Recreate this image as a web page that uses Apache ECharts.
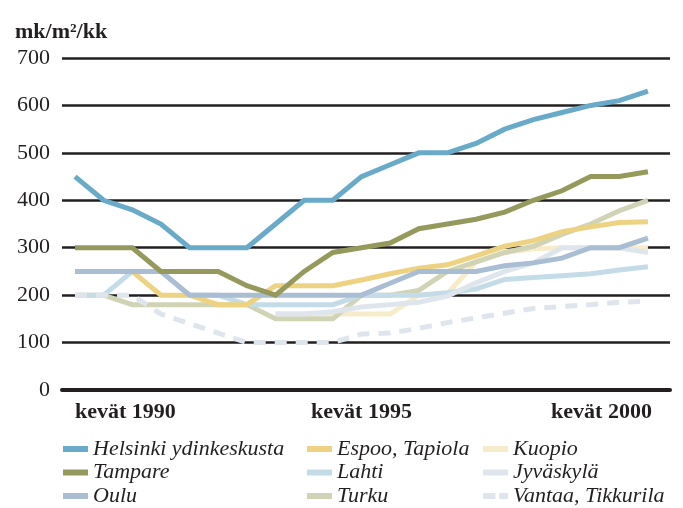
<!DOCTYPE html>
<html><head><meta charset="utf-8">
<script src="https://cdn.jsdelivr.net/npm/echarts@6/dist/echarts.min.js"></script>
<style>html,body{margin:0;padding:0;background:#fff}#c{width:683px;height:508px}</style>
</head><body><div id="c"></div>
<script>
// Semiannual observations, spring 1990 .. spring 2000 (21 points)
const periods = [
  'kevät 1990','syksy 1990','kevät 1991','syksy 1991','kevät 1992','syksy 1992',
  'kevät 1993','syksy 1993','kevät 1994','syksy 1994','kevät 1995','syksy 1995',
  'kevät 1996','syksy 1996','kevät 1997','syksy 1997','kevät 1998','syksy 1998',
  'kevät 1999','syksy 1999','kevät 2000'
];
const tickIndices = [0, 10, 20];
const yTicks = [0, 100, 200, 300, 400, 500, 600, 700];
const unitLabel = 'mk/m²/kk';

const helsinki  = [450,400,380,350,300,300,300,350,400,400,450,475,500,500,520,550,570,585,600,610,630];
const tampere   = [300,300,300,250,250,250,220,200,250,290,300,310,340,350,360,375,400,420,450,450,460];
const oulu      = [250,250,250,250,200,200,200,200,200,200,200,225,250,250,250,262,268,278,300,300,320];
const espoo     = [250,250,250,200,200,180,180,220,220,220,232,245,257,264,283,303,315,334,344,353,355];
const lahti     = [200,200,250,250,200,200,180,180,180,180,200,200,200,205,213,233,237,241,245,253,260];
const turku     = [200,200,180,180,180,180,180,150,150,150,200,200,210,250,270,290,303,328,350,378,400];
const kuopio    = [null,null,null,null,null,null,null,160,160,160,160,160,200,203,270,290,298,300,300,300,300];
const jyvaskyla = [null,null,null,null,null,null,null,160,160,165,175,180,185,198,226,250,268,300,300,300,290];
const vantaa    = [200,200,200,160,140,120,100,100,100,100,118,120,130,142,152,162,172,176,180,185,187];

const names = {
  helsinki:'Helsinki ydinkeskusta', espoo:'Espoo, Tapiola', kuopio:'Kuopio',
  tampere:'Tampare', lahti:'Lahti', jyvaskyla:'Jyväskylä',
  oulu:'Oulu', turku:'Turku', vantaa:'Vantaa, Tikkurila'
};
const colors = {
  helsinki:'#6aaac9', tampere:'#959a5c', oulu:'#a9bdd3', espoo:'#ecd281',
  lahti:'#c3dce7', turku:'#d1d3b5', kuopio:'#f6ecca', jyvaskyla:'#dee5ed', vantaa:'#dee5ed'
};

const INK = '#231f20';
const FONT = '"Liberation Serif", "DejaVu Serif", serif';
const AXFS = 22;

const ctx = document.createElement('canvas').getContext('2d');
ctx.font = 'bold ' + AXFS + 'px ' + FONT;
const wFirst = ctx.measureText(periods[tickIndices[0]]).width;
const wLast = ctx.measureText(periods[tickIndices[2]]).width;

function mk(key, values, extra) {
  return Object.assign({
    name: names[key], type: 'line', symbol: 'none', showSymbol: false,
    data: values.map((v, i) => [i, v]),
    lineStyle: { width: 5, color: colors[key], cap: 'butt', join: 'miter' },
    itemStyle: { color: colors[key] },
    emphasis: { disabled: true }, silent: true
  }, extra || {});
}

const SOLID = 'rect';
const DASHED = 'path://M0,0H13V6H0Z M17,0H26V6H17Z';
function li(key) { return { name: names[key], icon: key === 'vantaa' ? DASHED : SOLID }; }

const legendBase = {
  orient: 'vertical', top: 438, height: 80, padding: 0, itemWidth: 25, itemHeight: 6, itemGap: 1.5,
  selectedMode: false,
  textStyle: { fontFamily: FONT, fontStyle: 'italic', fontSize: 22, color: INK, lineHeight: 20 }
};

const chart = echarts.init(document.getElementById('c'), null, { renderer: 'canvas' });
chart.setOption({
  animation: false,
  backgroundColor: '#fff',
  title: { text: unitLabel, left: 10, top: 16, textStyle: { fontFamily: FONT, fontSize: 22, fontWeight: 'bold', color: INK } },
  grid: { left: 62, right: 13, top: 58, bottom: 118, outerBoundsMode: 'none' },
  xAxis: {
    type: 'value', min: -0.454, max: 20.77,
    splitLine: { show: false }, axisTick: { show: false },
    axisLine: { show: true, onZero: false, lineStyle: { color: INK, width: 4 } },
    axisLabel: {
      customValues: tickIndices, margin: 11, fontFamily: FONT, fontSize: AXFS, fontWeight: 'bold', color: INK,
      formatter: function (v) {
        const i = Math.round(v);
        const t = periods[i];
        if (i === tickIndices[0]) return '{l|' + t + '}';
        if (i === tickIndices[2]) return '{r|' + t + '}';
        return '{m|' + t + '}';
      },
      rich: {
        l: { padding: [0, 0, 0, wFirst] },
        r: { padding: [0, wLast - 8, 0, 0] },
        m: {}
      }
    }
  },
  yAxis: {
    type: 'value', min: yTicks[0], max: yTicks[yTicks.length - 1], interval: 100,
    axisLine: { show: false }, axisTick: { show: false },
    splitLine: { show: true, lineStyle: { color: INK, width: 2.5 } },
    axisLabel: { margin: 12, fontFamily: FONT, fontSize: 22, color: INK }
  },
  legend: [
    Object.assign({}, legendBase, { left: 63, data: [li('helsinki'), li('tampere'), li('oulu')] }),
    Object.assign({}, legendBase, { left: 307, data: [li('espoo'), li('lahti'), li('turku')] }),
    Object.assign({}, legendBase, { left: 483, data: [li('kuopio'), li('jyvaskyla'), li('vantaa')] })
  ],
  series: [
    mk('kuopio', kuopio),
    mk('turku', turku),
    mk('lahti', lahti),
    mk('espoo', espoo),
    mk('jyvaskyla', jyvaskyla),
    mk('oulu', oulu),
    mk('tampere', tampere),
    mk('vantaa', vantaa, { lineStyle: { width: 5, color: colors.vantaa, type: [12, 9], cap: 'butt' } }),
    mk('helsinki', helsinki)
  ]
});
</script>
</body></html>
